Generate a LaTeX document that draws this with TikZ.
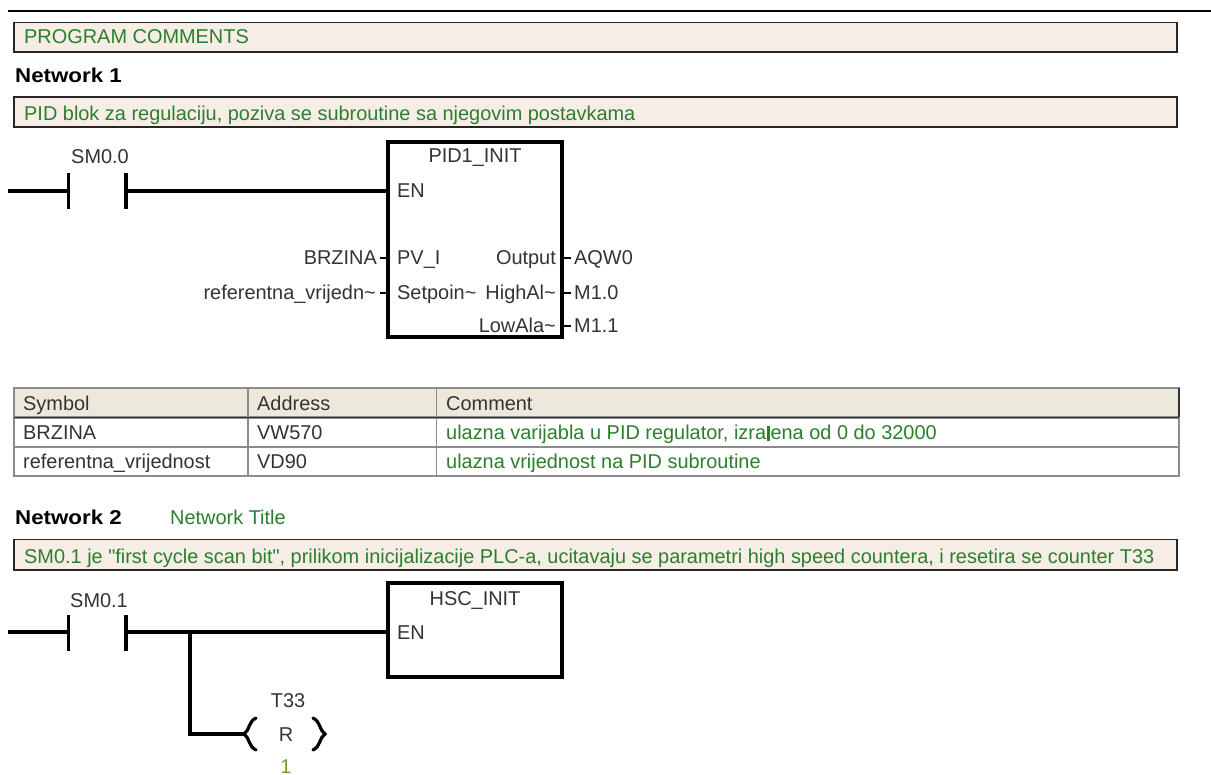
\documentclass[tikz,border=0pt]{standalone}
\usepackage{fontspec}
\setmainfont[FakeStretch=0.996]{Liberation Sans}
\newfontfamily\plainf[FakeStretch=0.996]{Liberation Sans}
\newfontfamily\boldf[FakeStretch=1.115]{Liberation Sans Bold}
\definecolor{cgreen}{HTML}{2B7F2B}
\definecolor{cbox}{HTML}{F6EEE6}
\definecolor{chead}{HTML}{ECE9DC}
\definecolor{cgrid}{HTML}{8C8C8C}
\definecolor{ctext}{HTML}{333333}
\tikzset{
 x=1pt,y=-1pt,
 lbl/.style={inner sep=0pt,text=ctext,text height=15pt,text depth=1pt,font=\fontsize{20}{20}\selectfont},
 gtx/.style={lbl,text=cgreen,anchor=west},
 title/.style={inner sep=0pt,text=black,text height=15pt,text depth=1pt,font=\fontsize{20}{20}\boldf,anchor=west},
 combox/.style={draw=black!85,line width=1.9pt,fill=cbox},
 blockbox/.style={draw=black,line width=3.6pt,fill=white},
 wire/.style={draw=black,line width=3.2pt},
 stub/.style={draw=black,line width=2.2pt},
 headcell/.style={draw=cgrid,line width=1.6pt,fill=chead},
 rowcell/.style={draw=cgrid,line width=1.3pt,fill=white},
}
\begin{document}
\begin{tikzpicture}
\useasboundingbox (0,0) rectangle (1211,775);
\fill[white] (0,0) rectangle (1211,775);
% top rule
\coordinate (topL) at (8,10.7); \coordinate (topR) at (1211,10.7);
\draw[black,line width=1.8pt] (topL) -- (topR);
% comment boxes
\draw[combox] (14,22.5) rectangle (1177,52.3);
\node[gtx] (pc) at (24,37) {PROGRAM COMMENTS};
\node[title] (n1) at (15,76) {Network 1};
\draw[combox] (14,97.3) rectangle (1177,127.3);
\node[gtx] (c1) at (24,113.5) {PID blok za regulaciju, poziva se subroutine sa njegovim postavkama};
% network 1
\node[lbl] (smA) at (100,157) {SM0.0};
\coordinate (wA) at (8,191);
\coordinate (caLt) at (68.5,173); \coordinate (caLb) at (68.5,209);
\coordinate (caRt) at (126,173); \coordinate (caRb) at (126,209);
\coordinate (caL) at (68.5,191); \coordinate (caR) at (126,191);
\draw[wire] (caLt) -- (caLb); \draw[wire] (caRt) -- (caRb);
\draw[blockbox] (388,142) rectangle (562,337);
\coordinate (enA) at (388,191);
\draw[wire] (wA) -- (caL); \draw[wire] (caR) -- (enA);
\node[lbl] (pidt) at (475,156) {PID1\_INIT};
\node[lbl,anchor=west] (enAt) at (397,191) {EN};
\node[lbl,anchor=west] (pv) at (397,258) {PV\_I};
\node[lbl,anchor=west] (sp) at (397,293) {Setpoin\textasciitilde};
\node[lbl,anchor=east] (out) at (556,258) {Output};
\node[lbl,anchor=east] (hi) at (556,293) {HighAl\textasciitilde};
\node[lbl,anchor=east] (lo) at (556,326) {LowAla\textasciitilde};
\node[lbl,anchor=east] (brz) at (377,258) {BRZINA};
\node[lbl,anchor=east] (ref) at (376,293) {referentna\_vrijedn\textasciitilde};
\node[lbl,anchor=west] (aqw) at (574,258) {AQW0};
\node[lbl,anchor=west] (m10) at (574,293) {M1.0};
\node[lbl,anchor=west] (m11) at (574,326) {M1.1};
\coordinate (sa) at (380,258); \coordinate (sb) at (380,293);
\coordinate (pa) at (388,258); \coordinate (pb) at (388,293);
\coordinate (qa) at (562,258); \coordinate (qb) at (562,293); \coordinate (qc) at (562,326);
\coordinate (ra) at (571,258); \coordinate (rb) at (571,293); \coordinate (rc) at (571,326);
\draw[stub] (sa) -- (pa); \draw[stub] (sb) -- (pb);
\draw[stub] (qa) -- (ra); \draw[stub] (qb) -- (rb); \draw[stub] (qc) -- (rc);
% table
\draw[headcell] (14,388) rectangle (248,417);
\draw[headcell] (248,388) rectangle (436.5,417);
\draw[headcell] (436.5,388) rectangle (1179,417);
\draw[rowcell] (14,418) rectangle (248,447);
\draw[rowcell] (248,418) rectangle (436.5,447);
\draw[rowcell] (436.5,418) rectangle (1179,447);
\draw[rowcell] (14,447) rectangle (248,476);
\draw[rowcell] (248,447) rectangle (436.5,476);
\draw[rowcell] (436.5,447) rectangle (1179,476);
\draw[black!80,line width=1.9pt] (14,417.5) -- (1179,417.5);
\draw[black!80,line width=1.6pt] (1179,388) -- (1179,417.5);
\node[lbl,anchor=west] (h1) at (23,404) {Symbol};
\node[lbl,anchor=west] (h2) at (257,404) {Address};
\node[lbl,anchor=west] (h3) at (446,404) {Comment};
\node[lbl,anchor=west] (r1a) at (23,433) {BRZINA};
\node[lbl,anchor=west] (r1b) at (257,433) {VW570};
\node[gtx] (r1c) at (446,433) {ulazna varijabla u PID regulator, izra\hspace{1pt}\rule[-1pt]{2.4pt}{15pt}\hspace{1pt}ena od 0 do 32000};
\node[lbl,anchor=west] (r2a) at (23,461.5) {referentna\_vrijednost};
\node[lbl,anchor=west] (r2b) at (257,461.5) {VD90};
\node[gtx] (r2c) at (446,461.5) {ulazna vrijednost na PID subroutine};
% network 2
\node[title] (n2) at (15,518) {Network 2};
\node[gtx] (n2t) at (170,518) {Network Title};
\draw[combox] (14,539.5) rectangle (1177,570);
\node[gtx] (c2) at (24,556) {SM0.1 je {\plainf"first cycle scan bit"}, prilikom inicijalizacije PLC-a, ucitavaju se parametri high speed countera, i resetira se counter T33};
\node[lbl] (smB) at (99,600) {SM0.1};
\coordinate (wB) at (8,632);
\coordinate (cbLt) at (68.5,615); \coordinate (cbLb) at (68.5,651);
\coordinate (cbRt) at (126,615); \coordinate (cbRb) at (126,651);
\coordinate (cbL) at (68.5,632); \coordinate (cbR) at (126,632);
\draw[wire] (cbLt) -- (cbLb); \draw[wire] (cbRt) -- (cbRb);
\draw[blockbox] (388,583) rectangle (562,677);
\coordinate (enB) at (388,632); \coordinate (br) at (190,632);
\draw[wire] (wB) -- (cbL); \draw[wire] (cbR) -- (enB);
\node[lbl] (hsct) at (475,598) {HSC\_INIT};
\node[lbl,anchor=west] (enBt) at (397,632) {EN};
\coordinate (coilIn) at (246,734);
\draw[wire] (br) |- (coilIn);
\draw[wire,line cap=round] (256,718) .. controls (248,722) and (250,730) .. (244,734) .. controls (250,738) and (248,746) .. (256,750);
\draw[wire,line cap=round] (313,718) .. controls (321,722) and (319,730) .. (325,734) .. controls (319,738) and (321,746) .. (313,750);
\node[lbl] (t33) at (288,700) {T33};
\node[lbl] (rr) at (286,734) {R};
\node[lbl,text=cgreen!70!yellow] (one) at (286,766) {1};
\end{tikzpicture}
\end{document}
